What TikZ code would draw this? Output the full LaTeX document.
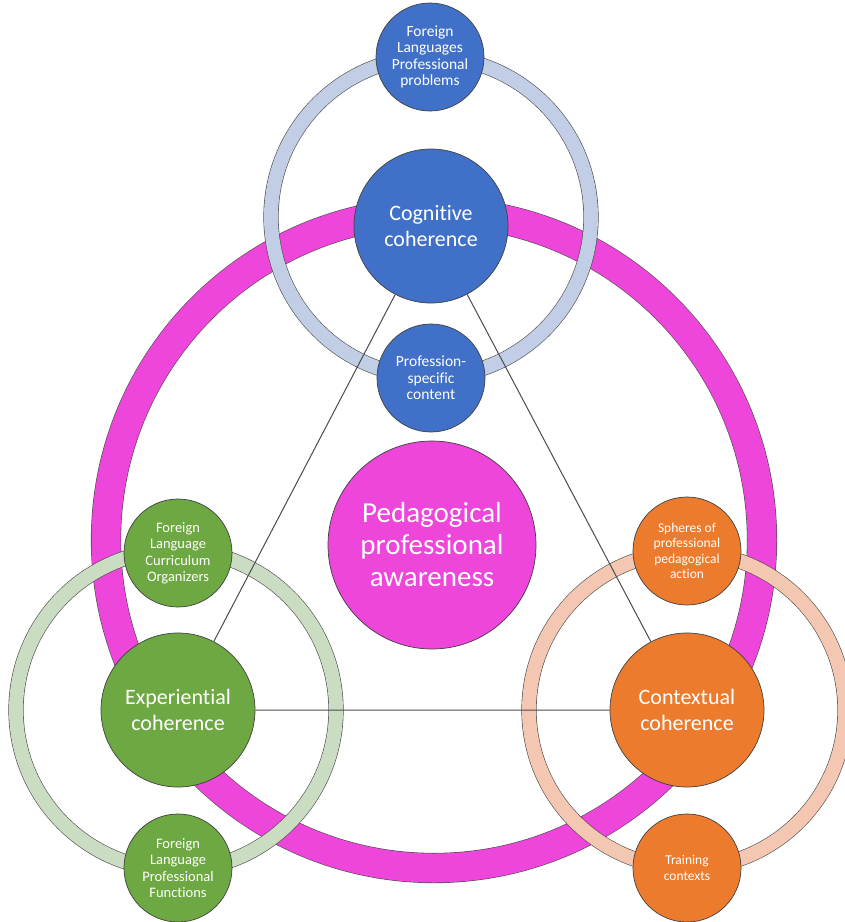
\documentclass[tikz,border=0pt]{standalone}
\usepackage{fontspec}
\setmainfont[Ligatures=NoCommon]{Carlito}
\usepackage{tikz}
\usetikzlibrary{shapes,positioning}
\definecolor{pedpink}{HTML}{EE45DB}
\definecolor{cogblue}{HTML}{4170C8}
\definecolor{expgreen}{HTML}{6DA842}
\definecolor{ctxorange}{HTML}{EC7B2E}
\definecolor{ringblue}{HTML}{C2CDE6}
\definecolor{ringgreen}{HTML}{CADCC2}
\definecolor{ringorange}{HTML}{F4C7B3}
\tikzset{bigc/.style={circle,draw=black!75,line width=0.7pt,inner sep=0pt,align=center,
    minimum size=154pt,text=white,font=\fontsize{22}{26}\selectfont}}
\tikzset{smallc/.style={circle,draw=black!75,line width=0.7pt,inner sep=0pt,align=center,
    minimum size=108pt,text=white,font=\fontsize{14.5}{16.5}\selectfont}}
\tikzset{band/.style={draw=black!70,line width=0.6pt,double distance=14pt}}
\tikzset{tri/.style={draw=black!70,line width=1pt}}

\begin{document}
\begin{tikzpicture}[x=1pt,y=-1pt]
\useasboundingbox[fill=white] (0,0) rectangle (845,922);

% Rings
\draw[band,
    double=pedpink,
    double distance=29pt
] (434,540) circle[radius=328];
\draw[band, double=ringblue] (431,217) circle[radius=160];
\draw[band, double=ringgreen] (176,710) circle[radius=160];
\draw[band, double=ringorange] (687,710) circle[radius=158];

\node[circle,
    draw=black!75,
    line width=0.7pt,
    fill=pedpink,
    minimum size=208pt,
    inner sep=0pt,
    align=center,
    text=white,
    font=\fontsize{29}{32}\selectfont
] (ped) at (432,545) {Pedagogical\\professional\\awareness};

\node[bigc,
    fill=cogblue
] (cog) at (431,226) {Cognitive\\coherence};

\node[smallc,
    fill=cogblue,
    font=\fontsize{15.5}{16.5}\selectfont
] (prob) at (430,57) {Foreign\\Languages\\Professional\\problems};

\node[smallc,
    fill=cogblue,
    font=\fontsize{15.5}{16.5}\selectfont
] (content) at (431,378) {Profession-\\specific\\content};

\node[bigc,
    fill=expgreen
] (exp) at (178,710) {Experiential\\coherence};

\node[smallc,
    fill=expgreen
] (organizers) at (178,553) {Foreign\\Language\\Curriculum\\Organizers};

\node[smallc,
    fill=expgreen
] (functions) at (178,868) {Foreign\\Language\\Professional\\Functions};

\node[bigc,
    fill=ctxorange
] (ctx) at (687,710) {Contextual\\coherence};

\node[smallc,
    fill=ctxorange,
    font=\fontsize{13.5}{15.5}\selectfont
] (spheres) at (687,551) {Spheres of\\professional\\pedagogical\\action};

\node[smallc,
    fill=ctxorange,
    font=\fontsize{13.5}{15.5}\selectfont
] (training) at (687,868) {Training\\contexts};

% Triangle
\draw[tri] (cog) -- (exp)
    (exp) -- (ctx)
    (ctx) -- (cog);
\end{tikzpicture}
\end{document}
